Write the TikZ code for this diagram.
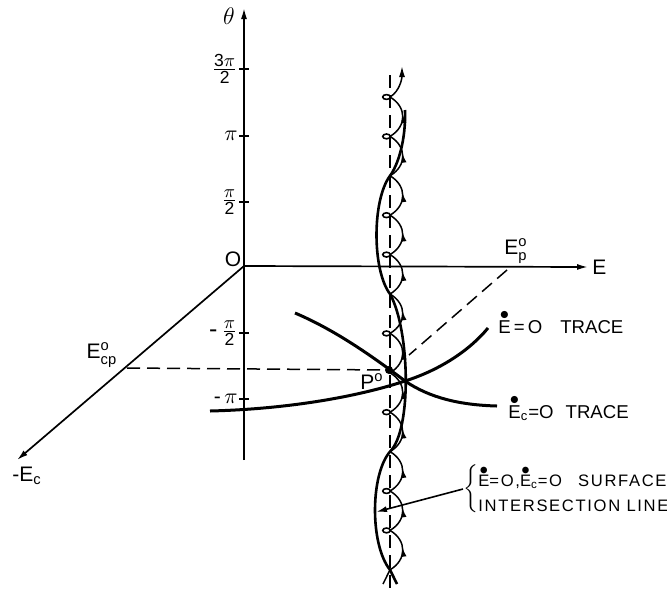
\documentclass[tikz,border=0pt]{standalone}
\usepackage{amsmath}
\usepackage{graphicx}
\usepackage{fontspec}
\setmainfont{Liberation Sans}
\newfontfamily\lettering[LetterSpace=10]{Liberation Sans}
\usepackage{tikz}
\usetikzlibrary{arrows.meta, positioning, decorations.markings}

% dot over a letter (time derivative)
\newcommand{\tdot}[1]{\leavevmode\vbox{\offinterlineskip\halign{\hfil##\hfil\cr$\bullet$\cr\noalign{\kern0.3pt}#1\cr}}}

\begin{document}
\begin{tikzpicture}[x=0.5pt, y=-0.5pt,
    axis/.style={line width=0.85pt},
    tip/.style={-{Latex[length=5.5pt, width=3pt]}},
    trace/.style={line width=1.5pt},
    env/.style={line width=1.3pt},
    guide/.style={line width=0.75pt, dash pattern=on 6.5pt off 3.5pt},
    swirl/.style={line width=0.75pt, postaction={decorate},
        decoration={markings, mark=at position 0.55 with {\arrow{Latex[length=4.5pt, width=2.8pt]}}}},
    lbl/.style={inner sep=1pt, font=\fontsize{10.5}{12}\selectfont},
    frac/.style={inner sep=1pt, font=\fontsize{12.5}{14}\selectfont},
    tlbl/.style={inner sep=0pt, font=\fontsize{9.3}{11}\selectfont},
]
\useasboundingbox (0,0) rectangle (667,595);

% axes
\coordinate (O) at (244,266);
\coordinate (thtop) at (244,8);
\coordinate (thbot) at (244,460);
\coordinate (Etip) at (588,267);
\coordinate (Ectip) at (17,460);
\draw[axis, tip] (thbot) -- (thtop);
\draw[axis, tip] (O) -- (Etip);
\draw[axis, tip] (O) -- (Ectip);

% ticks on theta
\foreach \n/\y in {tk3/69, tk2/136, tk1/202, tkm1/333, tkm2/399} {
  \coordinate (\n) at (244,\y);
  \draw[axis] (239,\y) -- (249,\y);
}
\node[frac, left=2pt of tk3] (t3) {$\frac{\text{3}\pi}{\text{2}}$};
\node[lbl, left=2pt of tk2] (t2) {$\pi$};
\node[frac, left=2pt of tk1] (t1) {$\frac{\pi}{\text{2}}$};
\node[frac, left=2pt of tkm1] (tm1) {-\,$\frac{\pi}{\text{2}}$};
\node[lbl, left=2pt of tkm2] (tm2) {-\,$\pi$};
\node[lbl, font=\fontsize{13}{14}\selectfont] (th) at (229,16) {$\theta$};
\node[lbl] (t0) at (233,259) {O};
\node[lbl, right=1pt of Etip] (eax) {E};
\node[lbl] (ep) at (516,251) {E$_\text{p}^\text{o}$};
\node[lbl] (ecp) at (102,355) {E$_\text{cp}^\text{o}$};
\node[lbl] (ec) at (27,476) {-E$_\text{c}$};

% projections of P
\coordinate (Ecp) at (127,368);
\coordinate (Ep) at (507,270);
\coordinate (Pe) at (409,355);
\node[circle, fill, inner sep=0pt, minimum size=4pt] (P) at (389,370) {};
\draw[guide] (Ecp) -- (P);
\draw[guide] (Ep) -- (Pe);
\node[lbl] (pl) at (372,382) {P$^\text{o}$};

% vertical line through P
\coordinate (vtop) at (390,75);
\coordinate (vbot) at (390,588);
\draw[guide] (vtop) -- (vbot);

% traces
\coordinate (Q) at (405,381);
\coordinate (a0) at (210,411);
\coordinate (a1) at (488,328);
\coordinate (b0) at (295,313);
\coordinate (b1) at (497,406);
\draw[trace] (a0) .. controls (290,409) and (360,396) .. (Q) .. controls (440,370) and (470,350) .. (a1);
\draw[trace] (b0) .. controls (335,330) and (372,356) .. (Q) .. controls (430,398) and (460,405) .. (b1);
\node[tlbl, anchor=base west] (alab) at (498,333) {\tdot{E}\,=\,O\hspace{9pt}TRACE};
\node[tlbl, anchor=base west] (blab) at (508,418) {\tdot{E}$_\text{c}$=O\hspace{6pt}TRACE};

% helix
\foreach \i in {0,...,12} \coordinate (h\i) at (390,{97+39.4*\i});
\foreach \i in {0,...,11} {
  \pgfmathtruncatemacro{\j}{\i+1}
  \draw[swirl] (h\j) .. controls +(17,-10) and +(17,10) .. (h\i);
}
\foreach \i in {0,1,3,4,6,8,10,11}
  \draw[line width=0.8pt] (h\i) ++(-3.5,0) ellipse [x radius=3.8, y radius=2.4];
\coordinate (htop) at (402,66);
\draw[line width=0.75pt, tip] (h0) .. controls +(10,-6) and +(0,12) .. (htop);

% envelope
\coordinate (e0) at (405,110);
\coordinate (ebr) at (397,584);
\coordinate (ebl) at (383,584);
\draw[env] (e0) .. controls (406,140) and (398,165) .. (h2)
  .. controls (372,200) and (372,270) .. (h5)
  .. controls (410,330) and (412,430) .. (h9)
  .. controls (370,475) and (370,545) .. (h12) -- (ebr);
\draw[line width=0.75pt] (h12) -- (ebl);

% note
\coordinate (lpt) at (376,512);
\node[anchor=west, inner sep=0pt] (note) at (463,489) {$\left\{\vcenter{\lettering\fontsize{8.3}{12.5}\selectfont\kern2pt\hbox{\tdot{E}=O,\tdot{E}$_\text{c}$=O\hspace{8pt}SURFACE}\hbox{INTERSECTION LINE}\kern2pt}\right.$};
\draw[line width=0.8pt, tip] (note.west) -- (lpt);
\end{tikzpicture}
\end{document}
